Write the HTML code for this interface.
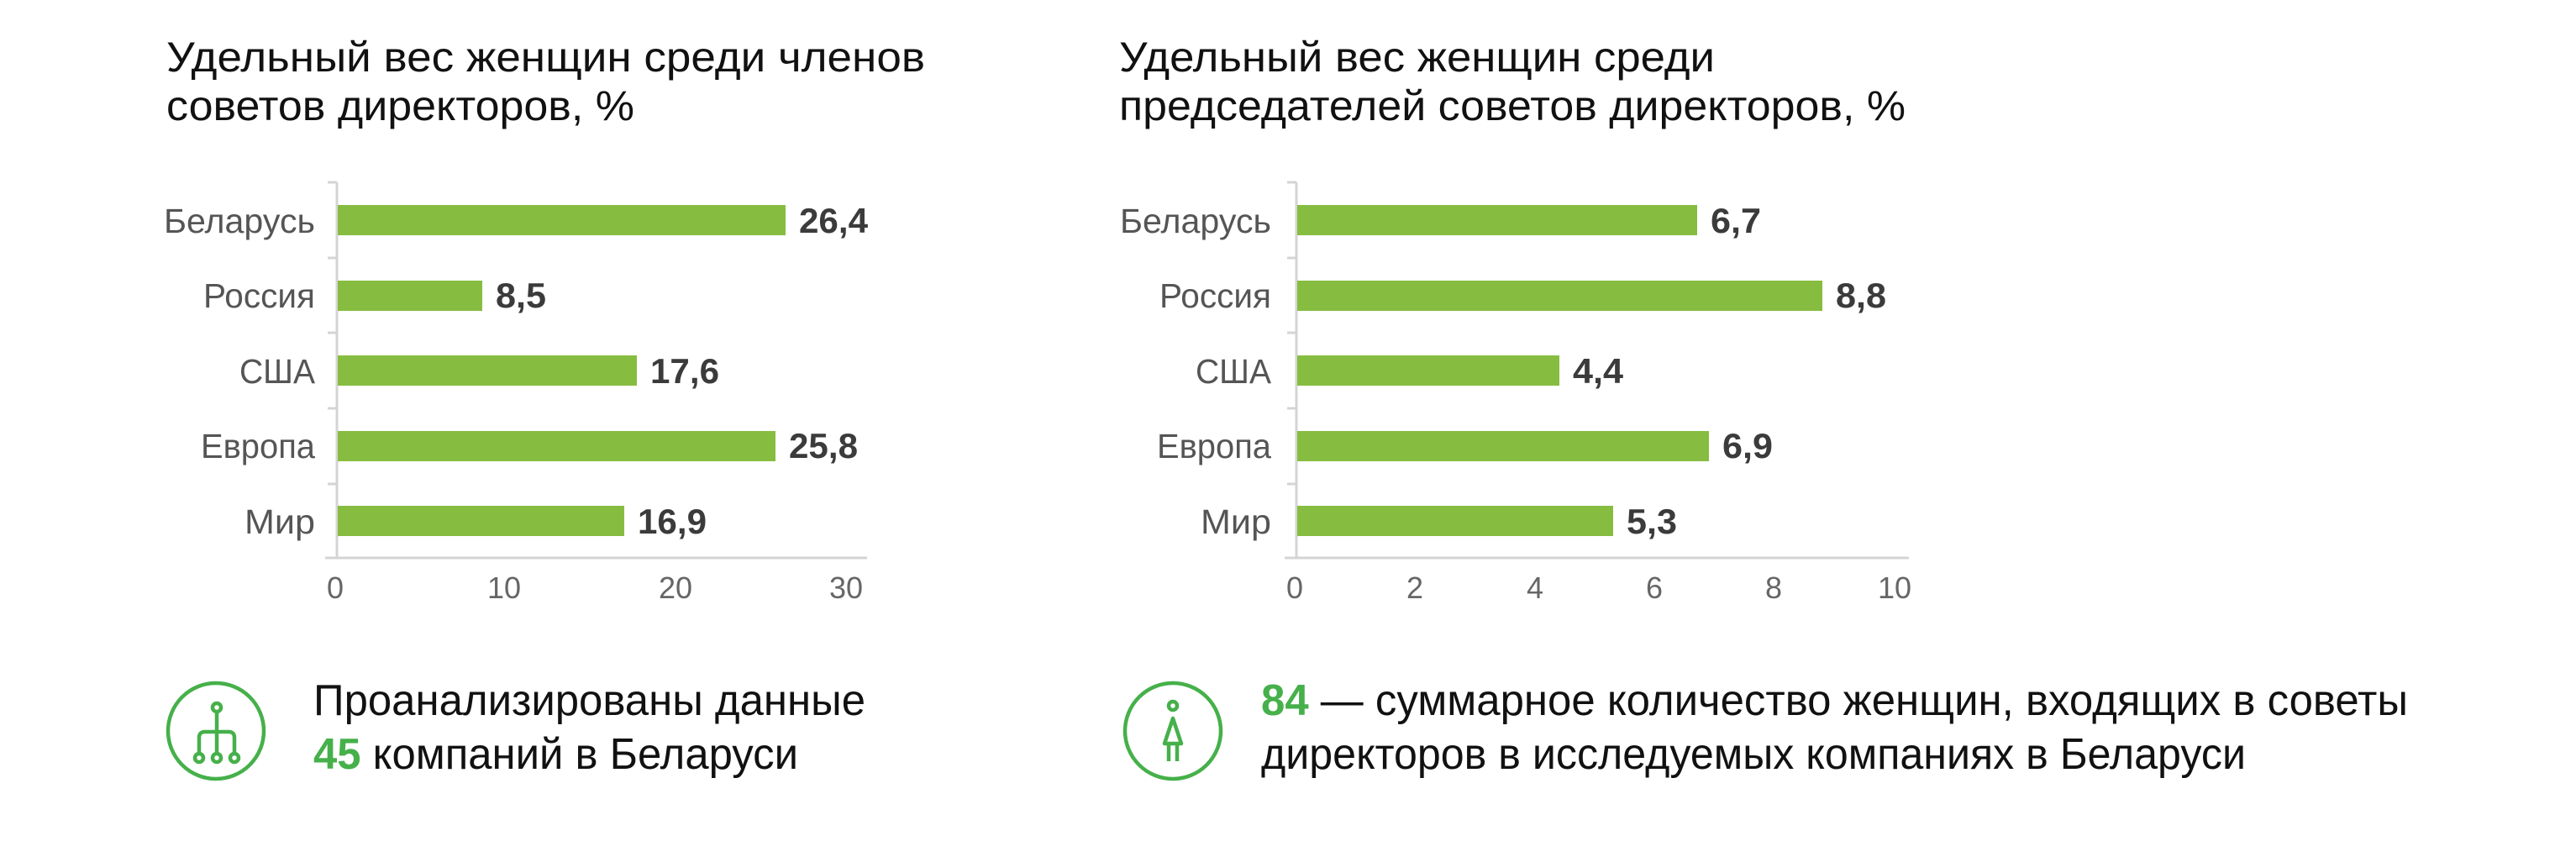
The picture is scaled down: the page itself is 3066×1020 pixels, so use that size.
<!DOCTYPE html>
<html><head><meta charset="utf-8"><style>
html,body{margin:0;padding:0;background:#fff;}
svg{display:block;}
</style></head><body>
<svg width="3066" height="1020" viewBox="0 0 3066 1020" xmlns="http://www.w3.org/2000/svg" font-family="'Liberation Sans', sans-serif">
<!-- Titles -->
<g fill="#111" font-size="50">
<text x="198" y="85" textLength="903" lengthAdjust="spacingAndGlyphs">Удельный вес женщин среди членов</text>
<text x="198" y="143" textLength="557" lengthAdjust="spacingAndGlyphs">советов директоров, %</text>
<text x="1332" y="85" textLength="709" lengthAdjust="spacingAndGlyphs">Удельный вес женщин среди</text>
<text x="1332" y="143" textLength="936" lengthAdjust="spacingAndGlyphs">председателей советов директоров, %</text>
</g>

<!-- Chart 1 -->
<g stroke="#d4d4d4" stroke-width="3" fill="none">
<line x1="401" y1="217" x2="401" y2="664"/>
<line x1="387" y1="664" x2="1032" y2="664"/>
<line x1="390" y1="217" x2="401" y2="217"/>
<line x1="390" y1="307" x2="401" y2="307"/>
<line x1="390" y1="396" x2="401" y2="396"/>
<line x1="390" y1="486" x2="401" y2="486"/>
<line x1="390" y1="576" x2="401" y2="576"/>
</g>
<g fill="#86bd40">
<rect x="402" y="244" width="533" height="36"/>
<rect x="402" y="334" width="172" height="36"/>
<rect x="402" y="423" width="356" height="36"/>
<rect x="402" y="513" width="521" height="36"/>
<rect x="402" y="602" width="341" height="36"/>
</g>
<g fill="#555" font-size="41" text-anchor="end">
<text x="375" y="277" textLength="180" lengthAdjust="spacingAndGlyphs">Беларусь</text>
<text x="375" y="366" textLength="133" lengthAdjust="spacingAndGlyphs">Россия</text>
<text x="375" y="456" textLength="90" lengthAdjust="spacingAndGlyphs">США</text>
<text x="375" y="545" textLength="136" lengthAdjust="spacingAndGlyphs">Европа</text>
<text x="375" y="635" textLength="84" lengthAdjust="spacingAndGlyphs">Мир</text>
</g>
<g fill="#3b3b3b" font-size="42" font-weight="bold">
<text x="951" y="277" textLength="82" lengthAdjust="spacingAndGlyphs">26,4</text>
<text x="590" y="366" textLength="60" lengthAdjust="spacingAndGlyphs">8,5</text>
<text x="774" y="456" textLength="82" lengthAdjust="spacingAndGlyphs">17,6</text>
<text x="939" y="545" textLength="82" lengthAdjust="spacingAndGlyphs">25,8</text>
<text x="759" y="635" textLength="82" lengthAdjust="spacingAndGlyphs">16,9</text>
</g>
<g fill="#666" font-size="36" text-anchor="middle">
<text x="399" y="712">0</text>
<text x="600" y="712">10</text>
<text x="804" y="712">20</text>
<text x="1007" y="712">30</text>
</g>

<!-- Chart 2 -->
<g stroke="#d4d4d4" stroke-width="3" fill="none">
<line x1="1543" y1="217" x2="1543" y2="664"/>
<line x1="1529" y1="664" x2="2272" y2="664"/>
<line x1="1532" y1="217" x2="1543" y2="217"/>
<line x1="1532" y1="307" x2="1543" y2="307"/>
<line x1="1532" y1="396" x2="1543" y2="396"/>
<line x1="1532" y1="486" x2="1543" y2="486"/>
<line x1="1532" y1="576" x2="1543" y2="576"/>
</g>
<g fill="#86bd40">
<rect x="1544" y="244" width="476" height="36"/>
<rect x="1544" y="334" width="625" height="36"/>
<rect x="1544" y="423" width="312" height="36"/>
<rect x="1544" y="513" width="490" height="36"/>
<rect x="1544" y="602" width="376" height="36"/>
</g>
<g fill="#555" font-size="41" text-anchor="end">
<text x="1513" y="277" textLength="180" lengthAdjust="spacingAndGlyphs">Беларусь</text>
<text x="1513" y="366" textLength="133" lengthAdjust="spacingAndGlyphs">Россия</text>
<text x="1513" y="456" textLength="90" lengthAdjust="spacingAndGlyphs">США</text>
<text x="1513" y="545" textLength="136" lengthAdjust="spacingAndGlyphs">Европа</text>
<text x="1513" y="635" textLength="84" lengthAdjust="spacingAndGlyphs">Мир</text>
</g>
<g fill="#3b3b3b" font-size="42" font-weight="bold">
<text x="2036" y="277" textLength="60" lengthAdjust="spacingAndGlyphs">6,7</text>
<text x="2185" y="366" textLength="60" lengthAdjust="spacingAndGlyphs">8,8</text>
<text x="1872" y="456" textLength="60" lengthAdjust="spacingAndGlyphs">4,4</text>
<text x="2050" y="545" textLength="60" lengthAdjust="spacingAndGlyphs">6,9</text>
<text x="1936" y="635" textLength="60" lengthAdjust="spacingAndGlyphs">5,3</text>
</g>
<g fill="#666" font-size="36" text-anchor="middle">
<text x="1541" y="712">0</text>
<text x="1684" y="712">2</text>
<text x="1827" y="712">4</text>
<text x="1969" y="712">6</text>
<text x="2111" y="712">8</text>
<text x="2255" y="712">10</text>
</g>

<!-- Icon 1 -->
<g stroke="#46b04a" stroke-width="4.5" fill="none">
<circle cx="257" cy="870" r="57"/>
<circle cx="258" cy="842" r="5"/>
<line x1="258" y1="847" x2="258" y2="897"/>
<path d="M237 897 V878 Q237 871 244 871 H272 Q279 871 279 878 V897"/>
<circle cx="237" cy="902" r="5"/>
<circle cx="258" cy="902" r="5"/>
<circle cx="279" cy="902" r="5"/>
</g>
<g font-size="52" fill="#111">
<text x="373" y="851" textLength="657" lengthAdjust="spacingAndGlyphs">Проанализированы данные</text>
<text x="373" y="915" textLength="577" lengthAdjust="spacingAndGlyphs"><tspan fill="#46b04a" font-weight="bold">45</tspan> компаний в Беларуси</text>
</g>

<!-- Icon 2 -->
<g stroke="#46b04a" stroke-width="4.5" fill="none" stroke-linejoin="round">
<circle cx="1396" cy="870" r="57"/>
<circle cx="1396" cy="840" r="5"/>
<path d="M1396 855 L1386 885 H1406 Z"/>
<line x1="1391" y1="885" x2="1391" y2="906"/>
<line x1="1401" y1="885" x2="1401" y2="906"/>
</g>
<g font-size="52" fill="#111">
<text x="1501" y="851" textLength="1365" lengthAdjust="spacingAndGlyphs"><tspan fill="#46b04a" font-weight="bold">84</tspan> — суммарное количество женщин, входящих в советы</text>
<text x="1501" y="915" textLength="1172" lengthAdjust="spacingAndGlyphs">директоров в исследуемых компаниях в Беларуси</text>
</g>
</svg>
</body></html>
